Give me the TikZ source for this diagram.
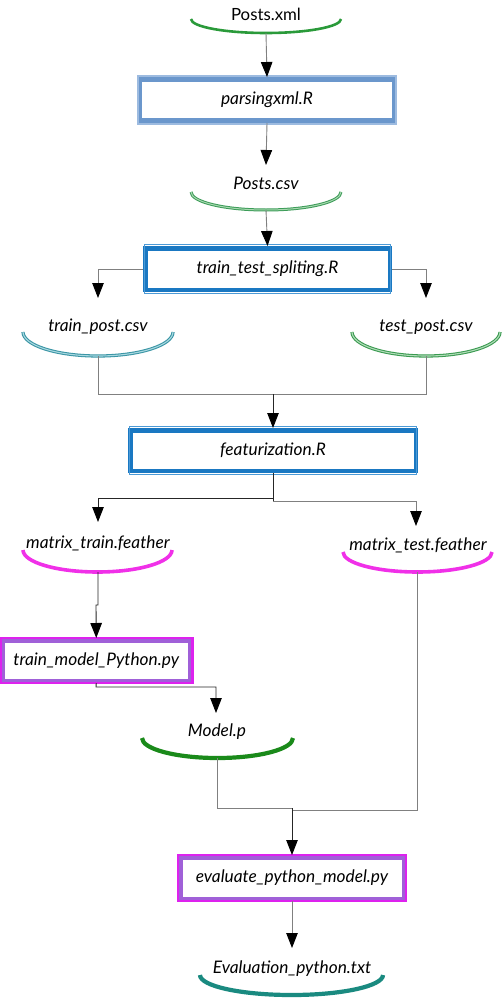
\documentclass[tikz,border=0pt]{standalone}
\usepackage{fontspec}
\setmainfont{Lato}
\usetikzlibrary{arrows.meta}
\definecolor{cXml}{HTML}{2A9A3A}
\definecolor{cCsv}{HTML}{3C9C58}
\definecolor{cCsvIn}{HTML}{A8D8B0}
\definecolor{cTrain}{HTML}{3A95A5}
\definecolor{cTrainIn}{HTML}{A8D8E0}
\definecolor{cTest}{HTML}{3A9A50}
\definecolor{cTestIn}{HTML}{B0DCB8}
\definecolor{cMat}{HTML}{F030E8}
\definecolor{cModel}{HTML}{1A8A1A}
\definecolor{cEval}{HTML}{1A8A80}
\definecolor{cBoxA}{HTML}{6B97CC}
\definecolor{cBoxAin}{HTML}{9DBBE0}
\definecolor{cBoxB}{HTML}{1A78C2}
\definecolor{cBoxBin}{HTML}{4C9AD6}
\definecolor{cBoxM}{HTML}{DD22EE}
\definecolor{cBoxMout}{HTML}{A060D8}
\definecolor{cLine}{HTML}{808080}
\newcommand\fileArc[6]{% color, x1, x2, ytop, ybot, style
  \pgfmathsetmacro\fcx{(#2+#3)/2}%
  \pgfmathsetmacro\frx{(#3-#2)/2}%
  \pgfmathsetmacro\fry{#5-#4}%
  \draw[#6]
    (#2,#4) .. controls (#2,#4+0.5523*\fry) and (\fcx-0.5523*\frx,#5) .. (\fcx,#5)
    .. controls (\fcx+0.5523*\frx,#5) and (#3,#4+0.5523*\fry) .. (#3,#4);
}
\begin{document}
\begin{tikzpicture}[x=1pt,y=-1pt,
  lbl/.style={font=\fontsize{17.3}{20}\selectfont\itshape, inner sep=0pt},
  boxbase/.style={inner sep=0pt, fill=white},
  conn/.style={draw=cLine, line width=0.9pt},
  arr/.style={conn, -{Triangle[length=15pt,width=11.5pt,color=black]}},
  darkconn/.style={draw=black!85, line width=0.9pt},
  darkarr/.style={darkconn, -{Triangle[length=15pt,width=11.5pt,color=black]}},
]
\useasboundingbox (0,0) rectangle (501,998);
\fill[white] (0,0) rectangle (501,998);

% ---------- file nodes (texts) ----------
\node[lbl, font=\fontsize{16.8}{20}\selectfont\upshape] (xmlT) at (266,14) {Posts.xml};
\node[lbl] (csvT) at (266,183) {Posts.csv};
\node[lbl] (trT) at (98,327) {train\_post.csv};
\node[lbl] (teT) at (426,327) {test\_post.csv};
\node[lbl] (mtrT) at (98,543) {matrix\_train.feather};
\node[lbl] (mteT) at (418,545) {matrix\_test.feather};
\node[lbl] (modT) at (217,732) {Model.p};
\node[lbl] (evT) at (292,969) {Evaluation\_python.txt};

% ---------- file arcs ----------
\fileArc{cXml}{191}{341}{19}{33}{draw=cXml, line width=2.6pt}
\fileArc{cCsv}{191}{341}{192}{210}{draw=cCsv, line width=3pt}
\fileArc{cCsv}{191}{341}{192}{210}{draw=cCsvIn, line width=1pt}
\fileArc{cTrain}{23}{173}{332}{356}{draw=cTrain, line width=3.2pt}
\fileArc{cTrain}{23}{173}{332}{356}{draw=cTrainIn, line width=1.1pt}
\fileArc{cTest}{352}{500}{332}{356}{draw=cTest, line width=3.2pt}
\fileArc{cTest}{352}{500}{332}{356}{draw=cTestIn, line width=1.1pt}
\fileArc{cMat}{23}{172}{550}{572}{draw=cMat, line width=3.6pt}
\fileArc{cMat}{343}{492}{552}{572}{draw=cMat, line width=3.6pt}
\fileArc{cModel}{142}{293}{738}{758}{draw=cModel, line width=4.2pt}
\fileArc{cEval}{200}{383}{975}{995}{draw=cEval, line width=4.2pt}

\coordinate (xmlB) at (266,33);
\coordinate (csvIn) at (266,165);
\coordinate (csvB) at (266,210);
\coordinate (trIn) at (98,298);
\coordinate (teIn) at (426,298);
\coordinate (trB) at (98,356);
\coordinate (teB) at (426,356);
\coordinate (jl) at (98,394);
\coordinate (jr) at (426,394);
\coordinate (jm) at (273,394);
\coordinate (fm) at (273,498);
\coordinate (fm2) at (273,501);
\coordinate (mtrIn) at (98,522);
\coordinate (mteIn) at (416,526);
\coordinate (mtrB) at (98,572);
\coordinate (mteB) at (417,572);
\coordinate (mtrJ) at (98,605);
\coordinate (mtrJ2) at (96,605);
\coordinate (tmJ) at (96,687);
\coordinate (modIn) at (216,713);
\coordinate (modB) at (217,758);
\coordinate (modJ) at (217,808);
\coordinate (mteJ) at (417,810);
\coordinate (evJ) at (292,808);
\coordinate (evJ2) at (292,810);
\coordinate (evIn) at (292,948);

% ---------- program boxes ----------
\node[boxbase, draw=cBoxA, line width=5pt, minimum width=255pt, minimum height=41pt] (parse) at (267,100) {};
\draw[cBoxAin, line width=1.4pt] ([shift={(1pt,-1pt)}]parse.south west) rectangle ([shift={(-1pt,1pt)}]parse.north east);
\node[lbl] (parseT) at (parse.center) {parsingxml.R};

\node[boxbase, draw=cBoxB, line width=4.5pt, minimum width=244.5pt, minimum height=41.5pt] (split) at (267.5,269) {};
\draw[cBoxBin, line width=1pt] ([shift={(1.2pt,-1.2pt)}]split.south west) rectangle ([shift={(-1.2pt,1.2pt)}]split.north east);
\node[lbl] (splitT) at (split.center) {train\_test\_spliting.R};

\node[boxbase, draw=cBoxB, line width=4.5pt, minimum width=285.5pt, minimum height=40.5pt] (feat) at (273,450.5) {};
\draw[cBoxBin, line width=1pt] ([shift={(1.2pt,-1.2pt)}]feat.south west) rectangle ([shift={(-1.2pt,1.2pt)}]feat.north east);
\node[lbl] (featT) at (feat.center) {featurization.R};

\node[boxbase, draw=cBoxMout, line width=4.5pt, minimum width=187.5pt, minimum height=40.5pt] (trainm) at (96.25,660.5) {};
\draw[cBoxM, line width=2.6pt] (trainm.south west) rectangle (trainm.north east);
\node[lbl] (trainmT) at (trainm.center) {train\_model\_Python.py};

\node[boxbase, draw=cBoxMout, line width=4.5pt, minimum width=223.5pt, minimum height=41.5pt] (eval) at (292,878) {};
\draw[cBoxM, line width=2.6pt] (eval.south west) rectangle (eval.north east);
\node[lbl] (evalT) at (eval.center) {evaluate\_python\_model.py};

% ---------- connectors ----------
\draw[arr] (xmlB) -- (parse.north);
\draw[arr] (parse.south) -- (csvIn);
\draw[arr] (csvB) -- (split.north);
\draw[arr] (split.west) -| (trIn);
\draw[arr] (split.east) -| (teIn);
\draw[conn] (trB) -- (jl) -- (jr) -- (teB);
\draw[darkarr] (jm) -- (feat.north);
\draw[darkconn] (feat.south) -- (fm2);
\draw[darkarr] (fm) -| (mtrIn);
\draw[arr] (fm2) -| (mteIn);
\draw[darkarr] (mtrB) -- (mtrJ) -- (mtrJ2) -- (trainm.north);
\draw[darkarr] (trainm.south) -- (tmJ) -| (modIn);
\draw[conn] (modB) -- (modJ) -- (evJ);
\draw[conn] (mteB) -- (mteJ) -- (evJ2);
\draw[darkarr] (evJ) -- (eval.north);
\draw[arr] (eval.south) -- (evIn);
\end{tikzpicture}
\end{document}
